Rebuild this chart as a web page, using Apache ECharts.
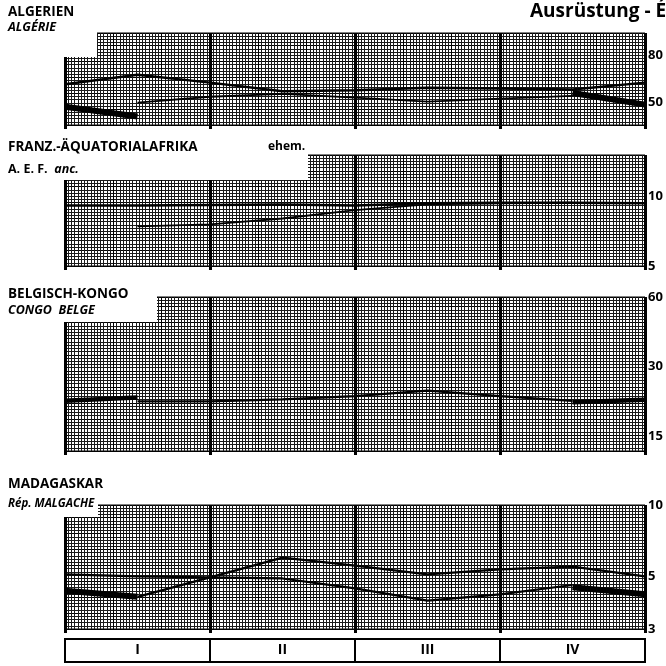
<!DOCTYPE html>
<html>
<head>
<meta charset="utf-8">
<script src="https://cdn.jsdelivr.net/npm/echarts@6/dist/echarts.min.js"></script>
<style>
html, body { margin: 0; background: #fff; }
#chart { width: 666px; height: 666px; }
</style>
</head>
<body>
<div id="chart"></div>
<script>
// x positions of the readings (months, 0..12), one every half quarter
var xPos = [0, 1.5, 3, 4.5, 6, 7.5, 9, 10.5, 12];
var quarters = ['I', 'II', 'III', 'IV'];

// Algerien / Algérie
var algerienA = [60, 66, 61, 56, 56.5, 58, 57.5, 57, 61];
var algerienB = [null, 50, 53, 54.5, 52.5, 50.5, 52, 53.5, null];
var algerienC = [48, 43.5, null, null, null, null, null, 55, 49];
var algerienTicks = [50, 80];

// Franz.-Äquatorialafrika / A.E.F.
var aefA = [9.1, 9.1, 9.15, 9.2, 9.1, 9.3, 9.35, 9.35, 9.3];
var aefB = [null, 7.4, 7.55, 8.0, 8.7, 9.2, 9.3, 9.35, null];
var aefTicks = [5, 10];

// Belgisch-Kongo / Congo belge
var kongoB = [null, 21.3, 21.3, 21.7, 22.4, 23.7, 22.4, 21.4, null];
var kongoC = [21.4, 22.1, null, null, null, null, null, 21.1, 21.6];
var kongoTicks = [15, 30, 60];

// Madagaskar / Rép. malgache
var madaA = [5.1, 5.0, 4.95, 6.0, 5.55, 5.1, 5.35, 5.5, 5.0];
var madaB = [null, 4.1, 4.95, 4.9, 4.45, 3.95, 4.2, 4.6, null];
var madaC = [4.35, 4.1, null, null, null, null, null, 4.5, 4.2];
var madaTicks = [3, 5, 10];

var panels = [
    {top: 33, height: 92, min: 40, max: 100, ticks: algerienTicks,
     lines: [{d: algerienA, w: 2.5}, {d: algerienB, w: 1.8}, {d: algerienC, w: 6}]},
    {top: 155, height: 111, min: 5, max: 15, ticks: aefTicks,
     lines: [{d: aefA, w: 2.5}, {d: aefB, w: 1.8}]},
    {top: 297, height: 154, min: 13, max: 60, ticks: kongoTicks,
     lines: [{d: kongoB, w: 2.2}, {d: kongoC, w: 4.5}]},
    {top: 505, height: 124, min: 3, max: 10, ticks: madaTicks,
     lines: [{d: madaA, w: 2.2}, {d: madaB, w: 2.2}, {d: madaC, w: 6}]}
];

function toPairs(vals) {
    return vals.map(function (v, i) { return [xPos[i], v == null ? '-' : v]; });
}

var grids = [], xAxes = [], yAxes = [], series = [];
var noLabel = {show: false}, noLine = {show: false}, noTick = {show: false};
var paper = '#1a1a1a';

panels.forEach(function (p, i) {
    grids.push({left: 65, right: 21, top: p.top, height: p.height,
        show: true, borderColor: '#000', borderWidth: 1});
    // quarter lines + fine paper lines
    xAxes.push({gridIndex: i, type: 'value', min: 0, max: 12, interval: 3,
        axisLabel: noLabel, axisLine: noLine,
        axisTick: {show: true, length: 4, lineStyle: {color: '#000', width: 3}},
        splitLine: {show: true, lineStyle: {color: '#000', width: 3}},
        minorTick: {show: false, splitNumber: 45},
        minorSplitLine: {show: true, lineStyle: {color: paper, width: 1}}});
    // month lines
    xAxes.push({gridIndex: i, type: 'value', min: 0, max: 12, interval: 1,
        axisLabel: noLabel, axisLine: noLine, axisTick: noTick,
        splitLine: {show: true, lineStyle: {color: '#000', width: 1}}});
    yAxes.push({gridIndex: i, type: 'log', logBase: 10, min: p.min, max: p.max,
        position: 'right', axisLine: noLine, axisTick: noTick, splitLine: {show: false},
        axisLabel: {customValues: p.ticks, margin: 3, color: '#000',
            fontWeight: 'bold', fontSize: 13, fontFamily: 'Open Sans'}});
    var n = Math.round(p.height / 3.2);
    yAxes.push({gridIndex: i, type: 'value', min: 0, max: n, interval: 5,
        position: 'left', axisLabel: noLabel, axisLine: noLine, axisTick: noTick,
        splitLine: {show: true, lineStyle: {color: '#000', width: 1}},
        minorTick: {show: false, splitNumber: 5},
        minorSplitLine: {show: true, lineStyle: {color: paper, width: 1}}});
    p.lines.forEach(function (l) {
        series.push({type: 'line', xAxisIndex: i * 2, yAxisIndex: i * 2,
            data: toPairs(l.d), symbol: 'none', silent: true, z: 5,
            lineStyle: {color: '#000', width: l.w}});
    });
});

// quarter boxes
grids.push({left: 65, right: 21, top: 639, height: 23, show: true,
    borderColor: '#000', borderWidth: 2});
xAxes.push({gridIndex: 4, type: 'category', data: quarters, boundaryGap: true,
    axisLine: noLine, axisTick: noTick,
    splitLine: {show: true, interval: 0, lineStyle: {color: '#000', width: 2}},
    axisLabel: {interval: 0, margin: -19, color: '#000', fontWeight: 'bold',
        fontSize: 14, fontFamily: 'Open Sans'}});
yAxes.push({gridIndex: 4, type: 'value', show: false});

function box(x, y, w, h) {
    return {type: 'rect', z: 100, shape: {x: x, y: y, width: w, height: h},
        style: {fill: '#fff'}};
}
function label(x, y, text, font) {
    return {type: 'text', z: 101, x: x, y: y,
        style: {text: text, font: font, fill: '#000'}};
}
var bold = 'bold 13.5px "Open Sans"', ital = 'italic bold 12.5px "Open Sans"';

var graphics = [
    box(60, 29, 37, 28), box(60, 151, 248, 29), box(60, 293, 97, 29), box(60, 501, 38, 16),
    label(530, 2, 'Ausrüstung - Équipement', 'bold 19px "Open Sans"'),
    label(8, 5, 'ALGERIEN', bold),
    label(8, 21, 'ALGÉRIE', ital),
    label(8, 140, 'FRANZ.-ÄQUATORIALAFRIKA', bold),
    label(268, 141, 'ehem.', 'bold 12px "Open Sans"'),
    {type: 'text', z: 101, x: 8, y: 163, style: {text: '{a|A. E. F.}  {b|anc.}',
        rich: {a: {font: 'bold 12.5px "Open Sans"', fill: '#000'},
               b: {font: 'italic bold 12.5px "Open Sans"', fill: '#000'}}}},
    label(8, 287, 'BELGISCH-KONGO', bold),
    label(8, 304, 'CONGO  BELGE', ital),
    label(8, 477, 'MADAGASKAR', bold),
    label(8, 498, 'Rép. MALGACHE', 'italic bold 11.5px "Open Sans"')
];

var chart = echarts.init(document.getElementById('chart'));
chart.setOption({
    animation: false,
    backgroundColor: '#fff',
    grid: grids,
    xAxis: xAxes,
    yAxis: yAxes,
    series: series,
    graphic: graphics
});
</script>
</body>
</html>
